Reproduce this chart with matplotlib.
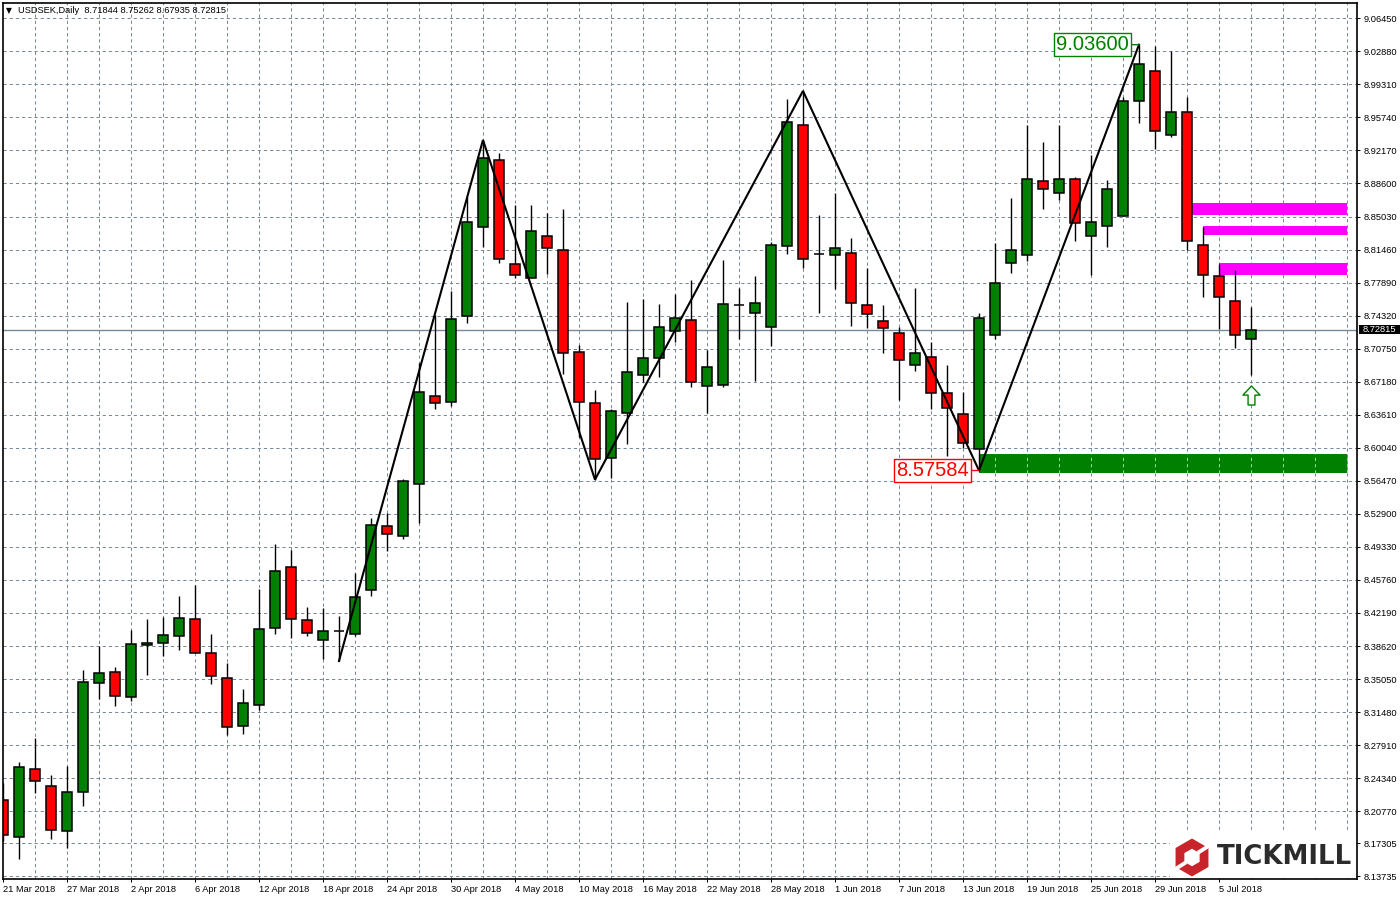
import matplotlib
matplotlib.use("Agg")
import matplotlib.pyplot as plt
from matplotlib.patches import Polygon, Rectangle
from matplotlib.path import Path
import numpy as np

plt.rcParams['font.family'] = ['Liberation Sans', 'DejaVu Sans']
plt.rcParams['lines.scale_dashes'] = False

# ---- data (prices) ----
highs = [8.2382, 8.2609, 8.2868, 8.2468, 8.2565, 8.3603, 8.3862, 8.3635, 8.4035, 8.4154,
         8.4175, 8.4402, 8.4521, 8.3992, 8.3678, 8.3397, 8.4478, 8.4964, 8.4900, 8.4284,
         8.4273, 8.4186, 8.4651, 8.5245, 8.5299, 8.5667, 8.6920, 8.7439, 8.7698, 8.8714,
         8.9330, 8.9190, 8.8628, 8.8628, 8.8541, 8.8584, 8.7115, 8.6629, 8.6423, 8.7579,
         8.7612, 8.7558, 8.7666, 8.7817, 8.7061, 8.8033, 8.7731, 8.7860, 8.8228, 8.9773,
         8.9860, 8.8519, 8.8757, 8.8271, 8.7947, 8.7547, 8.7309, 8.7731, 8.7147, 8.6899,
         8.6607, 8.7461, 8.8217, 8.8703, 8.9492, 8.9308, 8.9492, 8.8930, 8.9168, 8.8898,
         8.9795, 9.03600, 9.0346, 9.0292, 8.9795, 8.8390, 8.7990, 8.7925, 8.75262]
lows = [8.1755, 8.1560, 8.2274, 8.1777, 8.1679, 8.2133, 8.3289, 8.3214, 8.3268, 8.3549,
        8.3754, 8.3819, 8.3787, 8.3452, 8.2900, 8.2911, 8.3171, 8.3992, 8.3949, 8.3970,
        8.3722, 8.3700, 8.3970, 8.4402, 8.4889, 8.5018, 8.5191, 8.6423, 8.6456, 8.7353,
        8.8174, 8.8001, 8.7839, 8.7839, 8.7882, 8.6801, 8.6121, 8.5660, 8.5677, 8.6045,
        8.6715, 8.6769, 8.7147, 8.6661, 8.6380, 8.6661, 8.7180, 8.6726, 8.7104, 8.8098,
        8.7947, 8.7461, 8.7720, 8.7320, 8.7298, 8.7028, 8.6520, 8.6834, 8.6423, 8.5915,
        8.6002, 8.57584, 8.7180, 8.7893, 8.8022, 8.8584, 8.8682, 8.8239, 8.7871, 8.8174,
        8.8509, 8.9514, 8.9233, 8.9362, 8.8141, 8.7633, 8.7288, 8.7082, 8.67935]
opens = [8.2198, 8.1798, 8.2533, 8.2349, 8.1863, 8.2284, 8.3462, 8.3581, 8.3311, 8.3873,
         8.3895, 8.3970, 8.4154, 8.3787, 8.3516, 8.2998, 8.3225, 8.4057, 8.4716, 8.4143,
         8.3927, 8.4024, 8.3992, 8.4467, 8.5159, 8.5051, 8.5613, 8.6564, 8.6499, 8.7428,
         8.8390, 8.9114, 8.7990, 8.7839, 8.8293, 8.8141, 8.7039, 8.6488, 8.5894, 8.6380,
         8.6791, 8.6974, 8.7266, 8.7385, 8.6672, 8.6683, 8.7547, 8.7461, 8.7309, 8.8185,
         8.9492, 8.8098, 8.8087, 8.8109, 8.7547, 8.7374, 8.7244, 8.6899, 8.6985, 8.6596,
         8.6369, 8.5991, 8.7223, 8.8001, 8.8087, 8.8887, 8.8757, 8.8909, 8.8293, 8.8401,
         8.8509, 8.9751, 9.0076, 8.9384, 8.9633, 8.8195, 8.7860, 8.7590, 8.71844]
closes = [8.1820, 8.2555, 8.2403, 8.1874, 8.2284, 8.3473, 8.3570, 8.3322, 8.3884, 8.3895,
          8.3981, 8.4165, 8.3787, 8.3538, 8.2987, 8.3246, 8.4046, 8.4673, 8.4154, 8.4003,
          8.4024, 8.4024, 8.4392, 8.5170, 8.5072, 8.5645, 8.6607, 8.6488, 8.7396, 8.8444,
          8.9136, 8.8044, 8.7871, 8.8347, 8.8163, 8.7028, 8.6499, 8.5883, 8.6402, 8.6823,
          8.6974, 8.7309, 8.7406, 8.6715, 8.6877, 8.7558, 8.7547, 8.7569, 8.8195, 8.9525,
          8.8044, 8.8098, 8.8163, 8.7569, 8.7450, 8.7298, 8.6953, 8.7028, 8.6596, 8.6434,
          8.6056, 8.7406, 8.7785, 8.8141, 8.8909, 8.8800, 8.8909, 8.8433, 8.8444, 8.8800,
          8.9751, 9.0151, 8.9427, 8.9633, 8.8239, 8.7871, 8.7633, 8.7223, 8.72815]

zigzag_idx = [21, 30, 37, 50, 61, 71]
zigzag_kind = ['low', 'high', 'low', 'high', 'low', 'high']

zone_start = [74, 75, 76, 61]
zone_end = [84, 84, 84, 84]
zone_top = [8.8649, 8.8401, 8.8001, 8.5937]
zone_bottom = [8.8519, 8.8303, 8.7871, 8.5731]
zone_color = ['#FF00FF', '#FF00FF', '#FF00FF', '#008000']

y_ticks = [9.06450, 9.02880, 8.99310, 8.95740, 8.92170, 8.88600, 8.85030, 8.81460, 8.77890,
           8.74320, 8.70750, 8.67180, 8.63610, 8.60040, 8.56470, 8.52900, 8.49330, 8.45760,
           8.42190, 8.38620, 8.35050, 8.31480, 8.27910, 8.24340, 8.20770, 8.17305, 8.13735]
date_labels = ['21 Mar 2018', '27 Mar 2018', '2 Apr 2018', '6 Apr 2018', '12 Apr 2018',
               '18 Apr 2018', '24 Apr 2018', '30 Apr 2018', '4 May 2018', '10 May 2018',
               '16 May 2018', '22 May 2018', '28 May 2018', '1 Jun 2018', '7 Jun 2018',
               '13 Jun 2018', '19 Jun 2018', '25 Jun 2018', '29 Jun 2018', '5 Jul 2018']
arrow_idx = 78
arrow_price = 8.6569

# ---- layout ----
W, H = 1400, 900
PX = 0.72  # one pixel in points at dpi 100
TICK_FS = 6.7
fig = plt.figure(figsize=(14, 9), dpi=100, facecolor='white')
L, R, T, B = 2.5, 1357.0, 2.5, 879.0
ax = fig.add_axes([L / W, (H - B) / H, (R - L) / W, (B - T) / H])
ax.set_xlim(-0.03, 84.625)
ax.set_ylim(8.13443, 9.08157)
GRID = '#778899'
DASH = (0, (3.2 * PX, 3.0 * PX))

for s in ax.spines.values():
    s.set_linewidth(1.2)
    s.set_color('black')
    s.set_zorder(10)

# ticks and grid
n = len(opens)
x = np.arange(n)
major = np.arange(0, 4 * len(date_labels), 4)
minor = np.arange(2, 85, 2)
ax.set_xticks(major)
ax.set_xticklabels(date_labels, ha='left', fontsize=TICK_FS)
ax.tick_params(axis='x', length=3 * PX, width=1 * PX, pad=2.4, color='black')
ax.yaxis.tick_right()
ax.set_yticks(y_ticks)
ax.set_yticklabels([f'{v:.5f}' for v in y_ticks], fontsize=TICK_FS)
ax.tick_params(axis='y', length=3 * PX, width=1 * PX, pad=2.6, color='black')
for v in y_ticks:
    ax.axhline(v, color=GRID, lw=PX, linestyle=DASH, zorder=1)
for v in minor:
    ax.axvline(v, color=GRID, lw=PX, linestyle=DASH, zorder=1)

# zones
for s_, e_, t_, b_, c_ in zip(zone_start, zone_end, zone_top, zone_bottom, zone_color):
    ax.add_patch(Rectangle((s_, b_), e_ - s_, t_ - b_, facecolor=c_, edgecolor='none', zorder=2))
for v in minor[minor > zone_start[3]]:
    ax.plot([v, v], [zone_bottom[3], zone_top[3]], color='#8FE08F', lw=PX, linestyle=DASH, zorder=2.5)

# current price line
ax.axhline(closes[-1], color=GRID, lw=1.0, zorder=1.5)

# candles
ax.vlines(x, lows, highs, color='black', lw=1.0, zorder=3)
for i in range(n):
    o, c = opens[i], closes[i]
    col = '#008000' if c > o else '#FF0000'
    bottom = min(o, c)
    ax.bar(i, abs(c - o), width=0.64, bottom=bottom, color=col, edgecolor='black',
           linewidth=1.1, zorder=4)

# zigzag
zx = zigzag_idx
zy = [highs[i] if k == 'high' else lows[i] for i, k in zip(zigzag_idx, zigzag_kind)]
ax.plot(zx, zy, color='black', lw=1.5, zorder=5, solid_joinstyle='miter')

# price labels
def price_label(idx, price, color):
    ax.annotate(f'{price:.5f}', xy=(idx, price), xytext=(-10 * PX, 0), textcoords='offset points',
                ha='right', va='center', fontsize=14.5, color=color, zorder=7,
                bbox=dict(boxstyle='square,pad=0.09', fc='white', ec=color, lw=1.0),
                arrowprops=dict(arrowstyle='-', color=color, lw=1.0, shrinkA=0, shrinkB=0))

price_label(zigzag_idx[5], highs[zigzag_idx[5]], '#008000')
price_label(zigzag_idx[4], lows[zigzag_idx[4]], '#FF0000')

# arrow
arrow = Path([(0, .5), (.45, .02), (.18, .02), (.18, -.5), (-.18, -.5), (-.18, .02), (-.45, .02), (0, .5)], closed=True)
ax.plot([arrow_idx], [arrow_price], marker=arrow, markersize=19 * PX, mfc='white', mec='#008000',
        mew=1.0, zorder=6, linestyle='none')

# current price tag
tr = ax.get_yaxis_transform()
ax.add_patch(Rectangle((1.0015, closes[-1] - 0.0050), 0.04, 0.0098, transform=tr, facecolor='black',
                       edgecolor='none', clip_on=False, zorder=11))
ax.text(1.0042, closes[-1], f'{closes[-1]:.5f}', transform=tr, color='white', fontsize=TICK_FS,
        ha='left', va='center', clip_on=False, zorder=12)

# heading
fig.text(5.5 / W, 1 - 10.5 / H, '\u25BC', fontsize=5.5, family='DejaVu Sans', va='center', ha='left', color='black')
fig.text(18 / W, 1 - 10.5 / H,
         f'USDSEK,Daily  {opens[-1]:.5f} {highs[-1]:.5f} {lows[-1]:.5f} {closes[-1]:.5f}',
         fontsize=TICK_FS, va='center', ha='left', color='black')

# logo: white panel, red hexagon, wordmark
overlay = fig.add_axes([0, 0, 1, 1], facecolor='none', zorder=20)
overlay.set_xlim(0, W)
overlay.set_ylim(H, 0)
overlay.axis('off')
overlay.add_patch(Rectangle((1170, 832), 186, 46, facecolor='white', edgecolor='none'))
cx, cy = 1192, 857.5
ang = np.deg2rad(np.arange(6) * 60 + 90)
RED = '#C8242B'
overlay.add_patch(Polygon(np.c_[cx + 19 * np.cos(ang), cy - 19 * np.sin(ang)], closed=True, fc=RED, ec='none'))
overlay.add_patch(Polygon(np.c_[cx + 8.8 * np.cos(ang), cy - 8.8 * np.sin(ang)], closed=True, fc='white', ec='none'))
overlay.add_patch(Polygon([(1197, 851), (1209, 843.5), (1209, 848), (1198, 855)], closed=True, fc='white', ec='none'))
overlay.add_patch(Polygon([(1187, 864), (1175, 871.5), (1175, 867), (1186, 860)], closed=True, fc='white', ec='none'))
overlay.text(1217, 857.5, 'TICKMILL', fontsize=18.7, fontweight='bold', color='#2B2B2B', ha='left', va='center',
             family='DejaVu Sans')

fig.savefig('out.png', dpi=100)
